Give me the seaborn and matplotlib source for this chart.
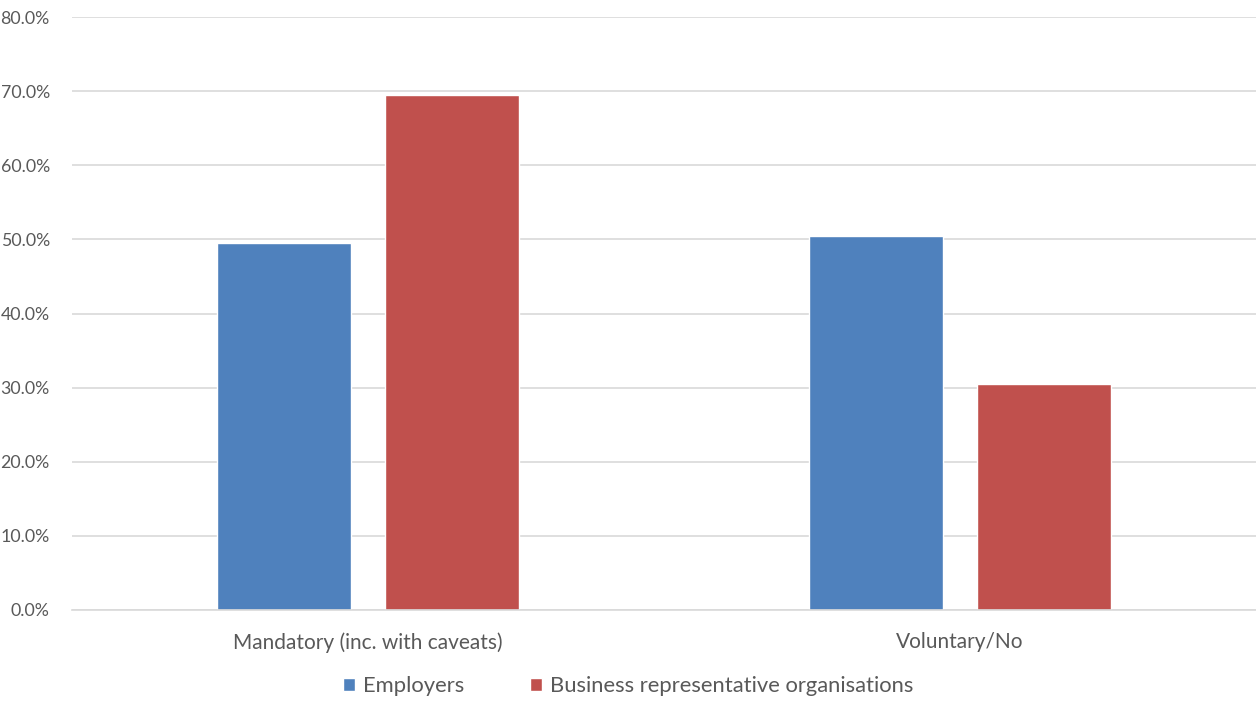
import matplotlib
matplotlib.use("Agg")
import matplotlib.pyplot as plt
import seaborn as sns
import pandas as pd
from matplotlib.ticker import FuncFormatter
from matplotlib.patches import Patch

categories = ["Mandatory (inc. with caveats)", "Voluntary/No"]
series_names = ["Employers", "Business representative organisations"]
employers = [0.495, 0.505]
business_orgs = [0.695, 0.305]
y_ticks = [0.0, 0.1, 0.2, 0.3, 0.4, 0.5, 0.6, 0.7, 0.8]

colors = ["#4F81BD", "#C0504D"]
text_color = "#595959"
grid_color = "#D9D9D9"

df = pd.DataFrame({
    "category": categories * 2,
    "series": [series_names[0]] * 2 + [series_names[1]] * 2,
    "value": employers + business_orgs,
})

sns.set_style("white")
plt.rcParams["font.family"] = ["Lato", "DejaVu Sans"]

fig = plt.figure(figsize=(12.56, 7.01), dpi=100)
ax = fig.add_axes([72 / 1256, 1 - 610 / 701, 1 - 72 / 1256, (610 - 17) / 701])

sns.barplot(data=df, x="category", y="value", hue="series", order=categories,
            hue_order=series_names, palette=colors, width=0.568, gap=0.2,
            saturation=1, legend=False, ax=ax)

ax.set_ylim(0, 0.8)
ax.set_xlim(-0.5, 1.5)
ax.set_yticks(y_ticks)
ax.yaxis.set_major_formatter(FuncFormatter(lambda v, _: f"{v * 100:.1f}%"))
ax.grid(axis="y", color=grid_color, linewidth=1.2)
ax.set_axisbelow(True)
for side in ["top", "right", "left"]:
    ax.spines[side].set_visible(False)
ax.spines["bottom"].set_color(grid_color)
ax.spines["bottom"].set_linewidth(1.2)
ax.tick_params(axis="both", length=0, colors=text_color)
ax.tick_params(axis="y", labelsize=12.8, pad=16)
ax.tick_params(axis="x", labelsize=15, pad=16)
for lbl in ax.get_yticklabels():
    lbl.set_horizontalalignment("right")
ax.set_xlabel("")
ax.set_ylabel("")

handles = [Patch(facecolor=c, label=n) for c, n in zip(colors, series_names)]
fig.legend(handles=handles, loc="center", bbox_to_anchor=(0.5, 1 - 686 / 701),
           ncol=2, frameon=False, fontsize=15.8, labelcolor=text_color,
           handlelength=0.55, handleheight=0.55, handletextpad=0.35, columnspacing=3.0)

fig.savefig("out.png", dpi=100)
